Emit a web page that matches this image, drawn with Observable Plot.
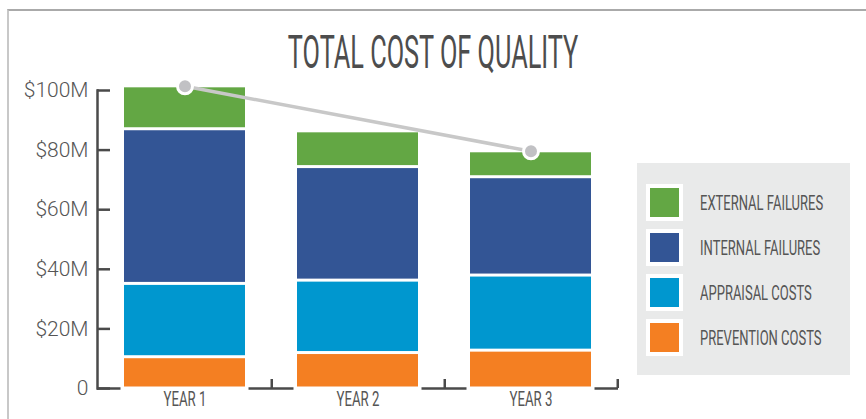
<!DOCTYPE html>
<html>
<head>
<meta charset="utf-8">
<script src="https://cdn.jsdelivr.net/npm/d3@7"></script>
<script src="https://cdn.jsdelivr.net/npm/@observablehq/plot@0.6"></script>
<style>
  html, body { margin: 0; padding: 0; background: #fff; }
  #wrap { position: relative; width: 866px; height: 419px; overflow: hidden; font-family: Roboto, sans-serif; }
  #frame { position: absolute; left: 7px; top: 9px; right: 0; bottom: -5px; border-top: 2px solid #aaaaaa; border-left: 2px solid #c8c8c8; }
  #title { position: absolute; left: 0; width: 866px; top: 29px; line-height: 46px; font-size: 46px; text-align: center; color: #4d4d4d; font-weight: 400; white-space: nowrap; }
  #title span { display: inline-block; transform: scaleX(0.55); transform-origin: center; }
  #chart { position: absolute; left: 0; top: 0; }
  #legend { position: absolute; left: 637px; top: 163px; width: 213px; height: 212px; background: #e9eaea; box-sizing: border-box; padding-top: 17px; overflow: hidden; }
  .row { display: flex; align-items: center; height: 45px; }
  .sw { flex: none; width: 37px; height: 37px; box-sizing: border-box; border: 4px solid #fff; margin-left: 9px; }
  .lab { flex: none; margin-left: 17px; font-size: 20px; color: #555; white-space: nowrap; display: inline-block; transform: scaleX(0.65); transform-origin: left center; }
</style>
</head>
<body>
<div id="wrap">
  <div id="frame"></div>
  <div id="chart"></div>
  <div id="title"><span>TOTAL COST OF QUALITY</span></div>
  <div id="legend"></div>
</div>
<script>
const years = ["YEAR 1", "YEAR 2", "YEAR 3"];
const seriesNames = ["PREVENTION COSTS", "APPRAISAL COSTS", "INTERNAL FAILURES", "EXTERNAL FAILURES"];
const prevention = [10.5, 11.9, 12.7];
const appraisal = [24.6, 24.3, 25.2];
const internal = [51.9, 38.1, 33.0];
const external = [14.4, 12.0, 8.7];
const seriesColors = ["#f47f22", "#0097cf", "#335595", "#63a744"];
const yTicks = [0, 20, 40, 60, 80, 100];
const trendYears = ["YEAR 1", "YEAR 3"];

const seriesValues = [prevention, appraisal, internal, external];
const rows = years.flatMap((yr, i) => seriesNames.map((s, j) => ({year: yr, series: s, value: seriesValues[j][i]})));
const totals = years.map((yr, i) => ({year: yr, total: d3.sum(seriesValues, v => v[i])}));
const trend = totals.filter(d => trendYears.includes(d.year));

const axisColor = "#4a4a4a";
const chart = Plot.plot({
  width: 866,
  height: 419,
  marginTop: 90,
  marginBottom: 31,
  marginLeft: 97,
  marginRight: 248,
  style: {background: "transparent", fontFamily: "Roboto, sans-serif", color: "#555"},
  x: {domain: years, paddingInner: 0.3, paddingOuter: 0.15, axis: null},
  y: {domain: [0, 100], axis: null},
  color: {domain: seriesNames, range: seriesColors},
  marks: [
    Plot.frame({anchor: "left", stroke: axisColor, strokeWidth: 2.5}),
    Plot.ruleY([0], {stroke: axisColor, strokeWidth: 2.5}),
    Plot.tickY(years, {x: d => d, y: () => 0, stroke: "white", strokeWidth: 5, insetLeft: -3.5, insetRight: -3.5}),
    Plot.ruleX(years, {x: d => d, dx: 86.75, insetTop: 289, stroke: axisColor, strokeWidth: 2.5}),
    Plot.barY(rows, {x: "year", y: "value", fill: "series", insetTop: 1.5, insetBottom: 1.5}),
    Plot.tickY(yTicks, {y: d => d, insetRight: 508, stroke: axisColor, strokeWidth: 2.5}),
    Plot.axisY({ticks: yTicks, tickSize: 0, tickPadding: 9, fontSize: 21, fontWeight: 300, label: null,
      tickFormat: d => d === 0 ? "0" : `$${d}M`}),
    Plot.axisX({tickSize: 0, tickPadding: 3, fontSize: 21, fontWeight: 400, label: null}),
    Plot.line(trend, {x: "year", y: "total", stroke: "#c8c8c8", strokeWidth: 3.5}),
    Plot.dot(trend, {x: "year", y: "total", r: 7.5, fill: "#c1c1c4", stroke: "white", strokeWidth: 3})
  ]
});
document.getElementById("chart").appendChild(chart);

// condense x-axis labels
chart.querySelectorAll('g[aria-label="x-axis tick label"] text').forEach(t => {
  const tr = t.getAttribute("transform");
  if (tr) t.setAttribute("transform", tr + " scale(0.63,1)");
});

// legend
const legend = d3.select("#legend");
seriesNames.slice().reverse().forEach(name => {
  const i = seriesNames.indexOf(name);
  const row = legend.append("div").attr("class", "row");
  row.append("div").attr("class", "sw").style("background", seriesColors[i]);
  row.append("span").attr("class", "lab").text(name);
});
</script>
</body>
</html>
